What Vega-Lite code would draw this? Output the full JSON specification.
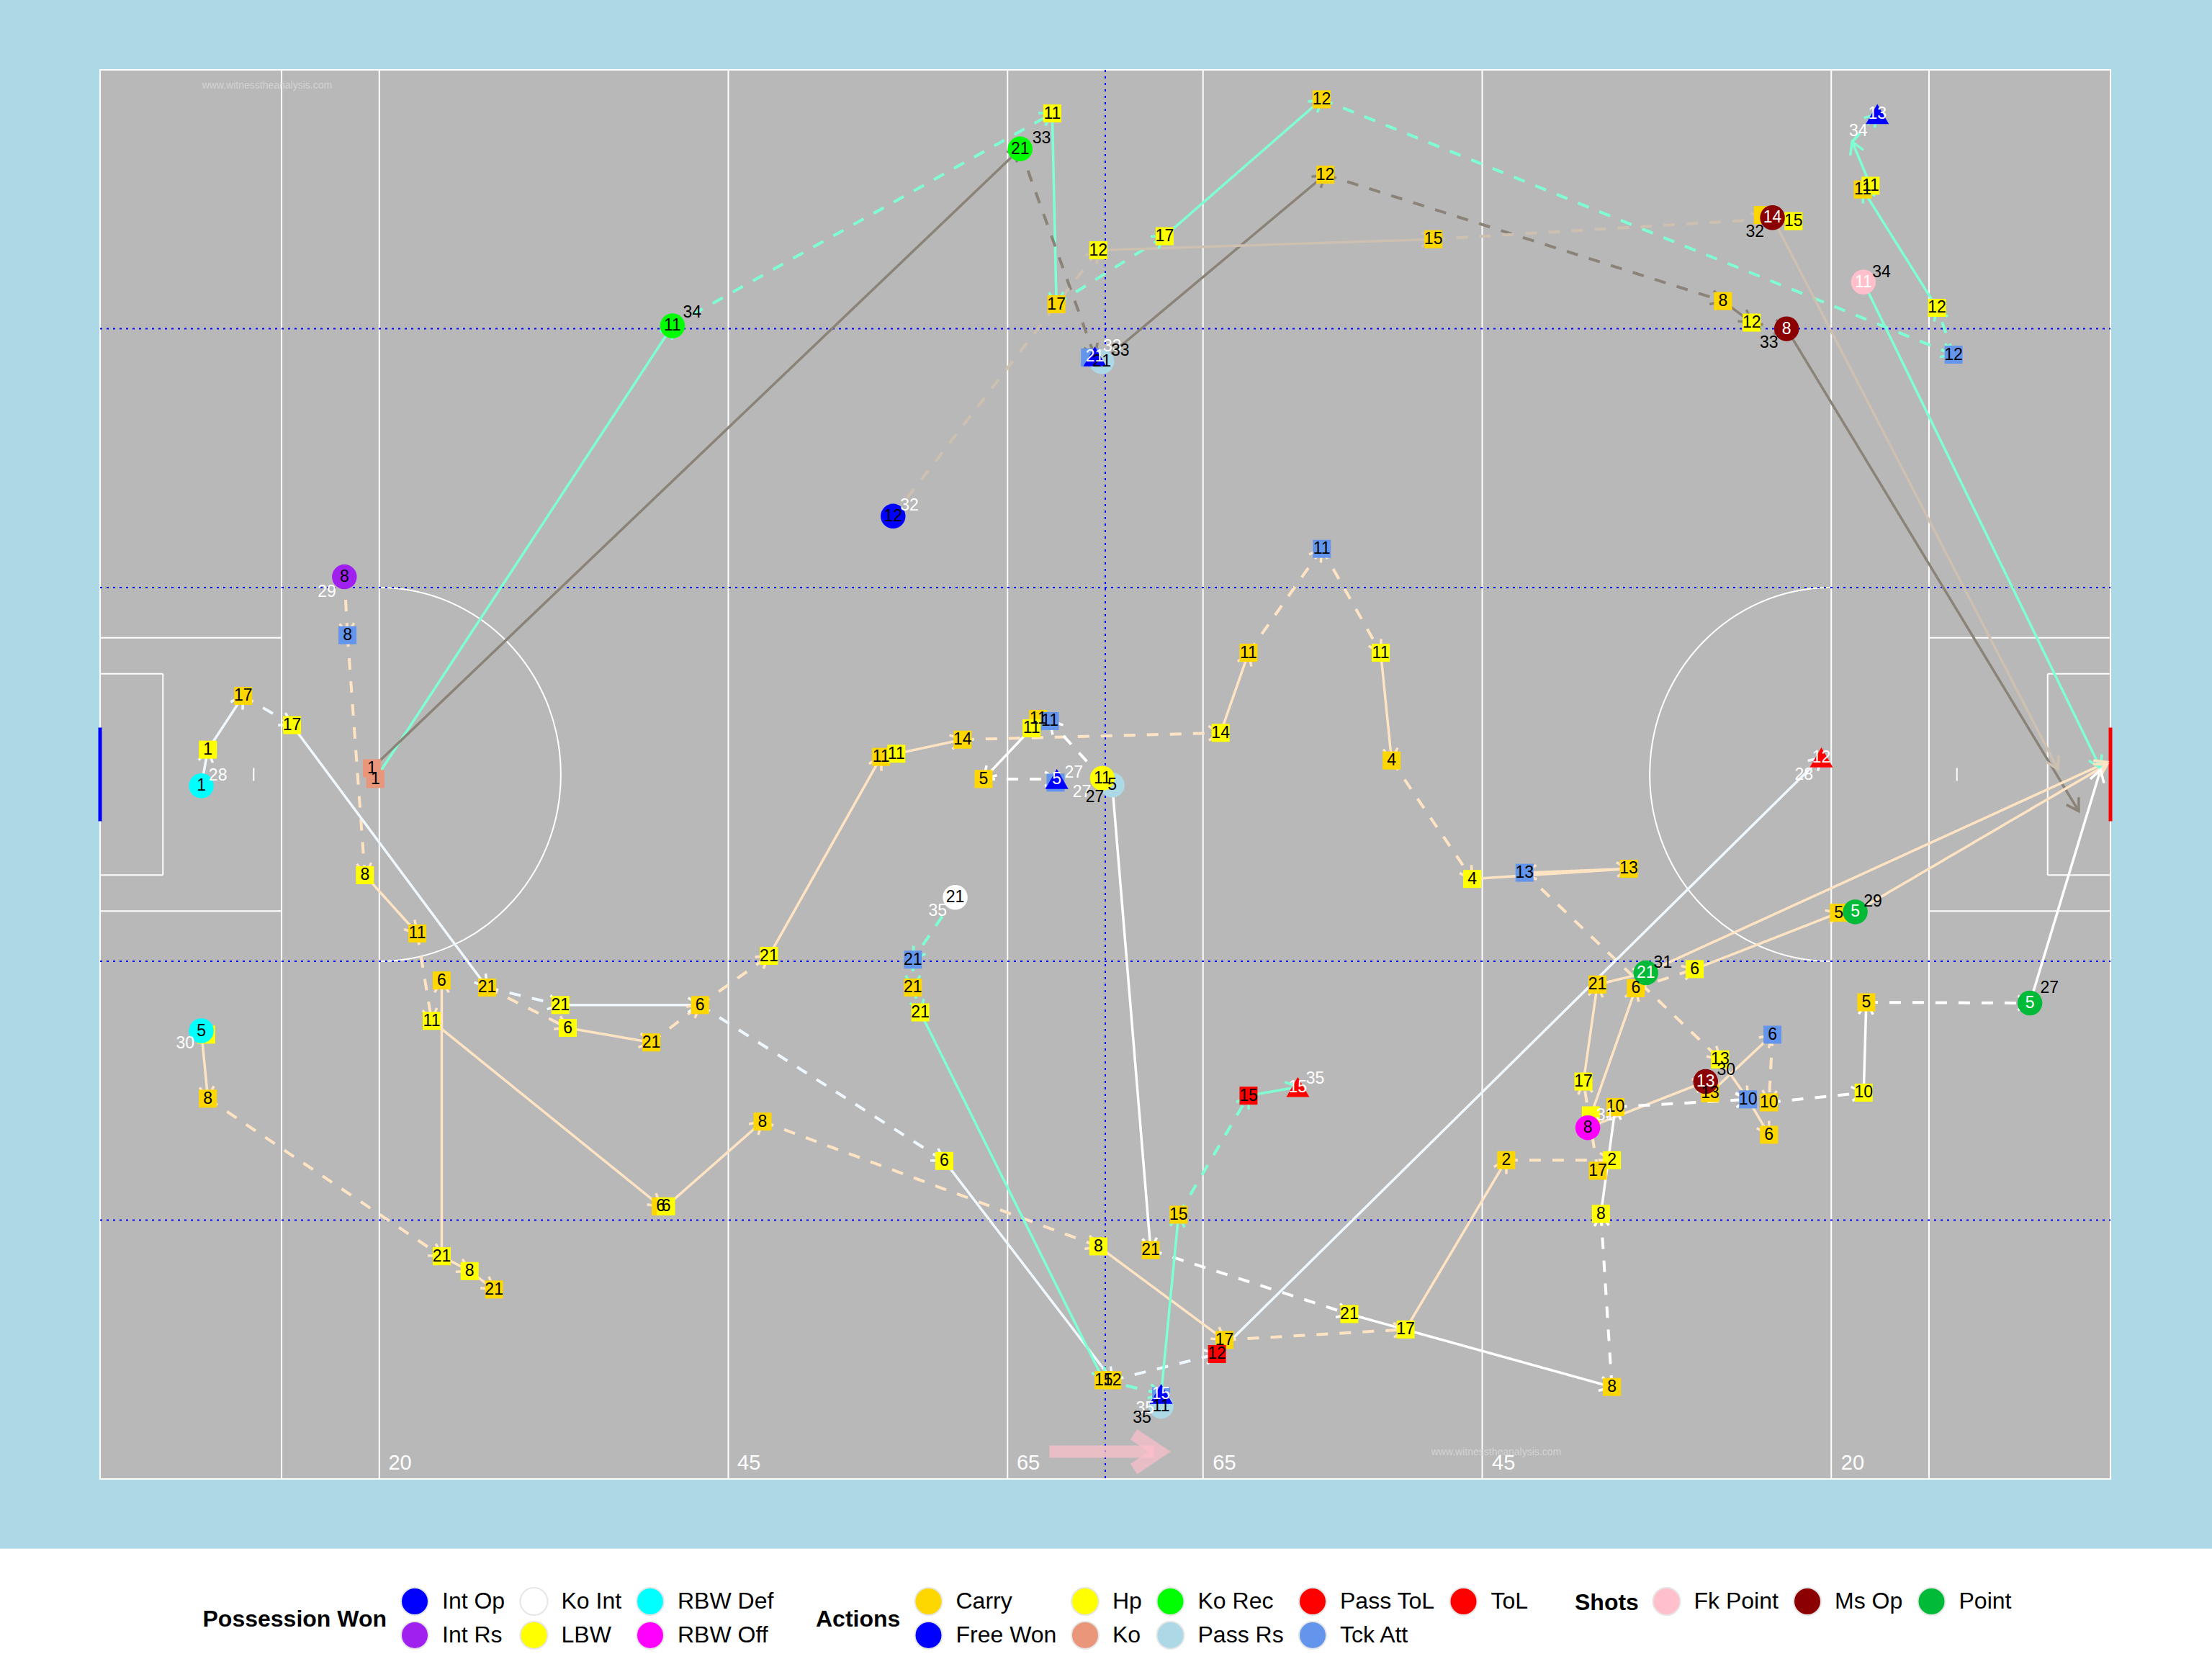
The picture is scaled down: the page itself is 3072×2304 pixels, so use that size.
{
  "$schema": "https://vega.github.io/schema/vega-lite/v6.json",
  "width": 2792,
  "height": 1957,
  "autosize": {"type": "none"},
  "padding": {"left": 139, "top": 97, "right": 141, "bottom": 250},
  "background": "#ADD8E6",
  "view": {"fill": "#B8B8B8", "stroke": "white", "strokeWidth": 2},
  "config": {
    "font": "Liberation Sans",
    "legend": {
      "padding": 0,
      "titleOrient": "left",
      "titleAnchor": "middle",
      "titleFontSize": 32,
      "titleFontWeight": "bold",
      "titleColor": "black",
      "titleLimit": 600,
      "titlePadding": 18.5,
      "labelFontSize": 32,
      "labelColor": "black",
      "labelOffset": 18,
      "labelLimit": 400,
      "symbolSize": 1444,
      "symbolStrokeWidth": 0,
      "symbolOpacity": 1,
      "columnPadding": 16.5,
      "rowPadding": 1
    }
  },
  "datasets": {
    "lines": [
      {"x": 13, "y": 0, "xe": 13, "ye": 98},
      {"x": 20, "y": 0, "xe": 20, "ye": 98},
      {"x": 45, "y": 0, "xe": 45, "ye": 98},
      {"x": 65, "y": 0, "xe": 65, "ye": 98},
      {"x": 79, "y": 0, "xe": 79, "ye": 98},
      {"x": 99, "y": 0, "xe": 99, "ye": 98},
      {"x": 124, "y": 0, "xe": 124, "ye": 98},
      {"x": 131, "y": 0, "xe": 131, "ye": 98},
      {"x": 0, "y": 39.5, "xe": 13, "ye": 39.5},
      {"x": 0, "y": 58.5, "xe": 13, "ye": 58.5},
      {"x": 131, "y": 39.5, "xe": 144, "ye": 39.5},
      {"x": 131, "y": 58.5, "xe": 144, "ye": 58.5},
      {"x": 0, "y": 42, "xe": 4.5, "ye": 42},
      {"x": 0, "y": 56, "xe": 4.5, "ye": 56},
      {"x": 4.5, "y": 42, "xe": 4.5, "ye": 56},
      {"x": 139.5, "y": 42, "xe": 144, "ye": 42},
      {"x": 139.5, "y": 56, "xe": 144, "ye": 56},
      {"x": 139.5, "y": 42, "xe": 139.5, "ye": 56},
      {"x": 11, "y": 48.55, "xe": 11, "ye": 49.45},
      {"x": 133, "y": 48.55, "xe": 133, "ye": 49.45}
    ],
    "dotlines": [
      {"x": 0, "y": 18, "xe": 144, "ye": 18},
      {"x": 0, "y": 36, "xe": 144, "ye": 36},
      {"x": 0, "y": 62, "xe": 144, "ye": 62},
      {"x": 0, "y": 80, "xe": 144, "ye": 80},
      {"x": 72, "y": 0, "xe": 72, "ye": 98}
    ],
    "moves": [
      {"p": "1", "m": "Pass", "x": 19.72, "y": 49.32, "xe": 41.0, "ye": 17.8},
      {"p": "1", "m": "Run", "x": 41.0, "y": 17.8, "xe": 68.2, "ye": 3.03},
      {"p": "1", "m": "Pass", "x": 68.2, "y": 3.03, "xe": 68.5, "ye": 16.3},
      {"p": "1", "m": "Run", "x": 68.5, "y": 16.3, "xe": 76.25, "ye": 11.57},
      {"p": "1", "m": "Pass", "x": 76.25, "y": 11.57, "xe": 87.5, "ye": 2.05},
      {"p": "1", "m": "Run", "x": 87.5, "y": 2.05, "xe": 132.76, "ye": 19.81},
      {"p": "1", "m": "Run", "x": 132.76, "y": 19.81, "xe": 131.57, "ye": 16.55},
      {"p": "1", "m": "Pass", "x": 131.57, "y": 16.55, "xe": 126.26, "ye": 8.32},
      {"p": "1", "m": "Pass", "x": 126.82, "y": 8.06, "xe": 125.5, "ye": 5.0},
      {"p": "1", "m": "Run", "x": 125.5, "y": 5.0, "xe": 127.3, "ye": 3.07},
      {"p": "1", "m": "Pass", "x": 126.3, "y": 14.76, "xe": 143.29, "ye": 48.57},
      {"p": "2", "m": "Pass", "x": 19.47, "y": 48.57, "xe": 65.9, "ye": 5.5},
      {"p": "2", "m": "Run", "x": 65.9, "y": 5.5, "xe": 71.25, "ye": 19.93},
      {"p": "2", "m": "Pass", "x": 71.75, "y": 20.3, "xe": 87.76, "ye": 7.29},
      {"p": "2", "m": "Run", "x": 87.76, "y": 7.29, "xe": 116.25, "ye": 16.08},
      {"p": "2", "m": "Pass", "x": 116.25, "y": 16.08, "xe": 118.3, "ye": 17.58},
      {"p": "2", "m": "Run", "x": 118.3, "y": 17.58, "xe": 120.8, "ye": 18.01},
      {"p": "2", "m": "Pass", "x": 120.8, "y": 18.01, "xe": 141.73, "ye": 51.56},
      {"p": "3", "m": "Run", "x": 56.8, "y": 31.04, "xe": 71.5, "ye": 12.55},
      {"p": "3", "m": "Pass", "x": 71.5, "y": 12.55, "xe": 95.5, "ye": 11.78},
      {"p": "3", "m": "Run", "x": 95.5, "y": 11.78, "xe": 119.1, "ye": 10.4},
      {"p": "3", "m": "Pass", "x": 119.79, "y": 10.28, "xe": 140.23, "ye": 48.63},
      {"p": "4", "m": "Run", "x": 17.5, "y": 35.26, "xe": 17.72, "ye": 39.32},
      {"p": "4", "m": "Run", "x": 17.72, "y": 39.32, "xe": 18.97, "ye": 56.01},
      {"p": "4", "m": "Pass", "x": 18.97, "y": 56.01, "xe": 22.72, "ye": 60.06},
      {"p": "4", "m": "Run", "x": 22.72, "y": 60.06, "xe": 23.75, "ye": 66.14},
      {"p": "4", "m": "Pass", "x": 23.75, "y": 66.14, "xe": 40.16, "ye": 79.04},
      {"p": "4", "m": "Pass", "x": 40.54, "y": 79.04, "xe": 47.45, "ye": 73.14},
      {"p": "4", "m": "Run", "x": 47.45, "y": 73.14, "xe": 71.5, "ye": 81.82},
      {"p": "4", "m": "Pass", "x": 71.5, "y": 81.82, "xe": 80.54, "ye": 88.33},
      {"p": "4", "m": "Run", "x": 80.54, "y": 88.33, "xe": 93.51, "ye": 87.6},
      {"p": "4", "m": "Pass", "x": 93.51, "y": 87.6, "xe": 100.72, "ye": 75.83},
      {"p": "4", "m": "Run", "x": 100.72, "y": 75.83, "xe": 108.29, "ye": 75.83},
      {"p": "4", "m": "Run", "x": 107.28, "y": 76.56, "xe": 106.25, "ye": 70.36},
      {"p": "4", "m": "Pass", "x": 106.25, "y": 70.36, "xe": 107.25, "ye": 63.61},
      {"p": "4", "m": "Pass", "x": 107.25, "y": 63.61, "xe": 110.72, "ye": 62.8},
      {"p": "4", "m": "Pass", "x": 110.72, "y": 62.8, "xe": 143.76, "ye": 48.15},
      {"p": "4", "m": "Pass", "x": 24.47, "y": 82.51, "xe": 24.47, "ye": 63.33},
      {"p": "4", "m": "Pass", "x": 7.25, "y": 66.83, "xe": 7.72, "ye": 71.55},
      {"p": "4", "m": "Run", "x": 7.72, "y": 71.55, "xe": 24.47, "ye": 82.51},
      {"p": "4", "m": "Pass", "x": 24.47, "y": 82.51, "xe": 26.47, "ye": 83.54},
      {"p": "4", "m": "Pass", "x": 26.47, "y": 83.54, "xe": 28.22, "ye": 84.82},
      {"p": "4", "m": "Run", "x": 27.72, "y": 63.82, "xe": 33.5, "ye": 66.63},
      {"p": "4", "m": "Pass", "x": 33.5, "y": 66.63, "xe": 39.48, "ye": 67.64},
      {"p": "4", "m": "Run", "x": 39.48, "y": 67.64, "xe": 42.97, "ye": 65.04},
      {"p": "4", "m": "Run", "x": 42.97, "y": 65.04, "xe": 47.91, "ye": 61.62},
      {"p": "4", "m": "Pass", "x": 47.91, "y": 61.62, "xe": 55.94, "ye": 47.78},
      {"p": "4", "m": "Pass", "x": 57.03, "y": 47.56, "xe": 61.78, "ye": 46.58},
      {"p": "4", "m": "Run", "x": 61.78, "y": 46.58, "xe": 80.26, "ye": 46.11},
      {"p": "4", "m": "Pass", "x": 80.26, "y": 46.11, "xe": 82.26, "ye": 40.54},
      {"p": "4", "m": "Run", "x": 82.26, "y": 40.54, "xe": 87.51, "ye": 33.31},
      {"p": "4", "m": "Run", "x": 87.51, "y": 33.31, "xe": 91.73, "ye": 40.54},
      {"p": "4", "m": "Pass", "x": 91.73, "y": 40.54, "xe": 92.51, "ye": 48.03},
      {"p": "4", "m": "Run", "x": 92.51, "y": 48.03, "xe": 98.28, "ye": 56.27},
      {"p": "4", "m": "Pass", "x": 98.28, "y": 56.27, "xe": 109.5, "ye": 55.56},
      {"p": "4", "m": "Pass", "x": 109.5, "y": 55.56, "xe": 102.03, "ye": 55.84},
      {"p": "4", "m": "Run", "x": 102.03, "y": 55.84, "xe": 116.04, "ye": 68.82},
      {"p": "4", "m": "Pass", "x": 116.04, "y": 68.82, "xe": 118.04, "ye": 71.6},
      {"p": "4", "m": "Pass", "x": 115.32, "y": 71.17, "xe": 119.79, "ye": 67.1},
      {"p": "4", "m": "Run", "x": 119.79, "y": 67.1, "xe": 119.54, "ye": 71.81},
      {"p": "4", "m": "Pass", "x": 118.04, "y": 71.6, "xe": 119.54, "ye": 74.06},
      {"p": "4", "m": "Pass", "x": 106.56, "y": 73.57, "xe": 115.0, "ye": 70.36},
      {"p": "4", "m": "Pass", "x": 106.78, "y": 72.71, "xe": 110.0, "ye": 63.87},
      {"p": "4", "m": "Run", "x": 110.0, "y": 63.87, "xe": 114.22, "ye": 62.54},
      {"p": "4", "m": "Pass", "x": 114.22, "y": 62.54, "xe": 124.54, "ye": 58.62},
      {"p": "4", "m": "Pass", "x": 125.72, "y": 58.56, "xe": 143.76, "ye": 48.3},
      {"p": "5", "m": "Pass", "x": 7.25, "y": 49.79, "xe": 7.72, "ye": 47.28},
      {"p": "5", "m": "Pass", "x": 7.72, "y": 47.28, "xe": 10.25, "ye": 43.54},
      {"p": "5", "m": "Run", "x": 10.25, "y": 43.54, "xe": 13.75, "ye": 45.57},
      {"p": "5", "m": "Pass", "x": 13.75, "y": 45.57, "xe": 27.72, "ye": 63.82},
      {"p": "5", "m": "Run", "x": 27.72, "y": 63.82, "xe": 32.97, "ye": 65.04},
      {"p": "5", "m": "Pass", "x": 32.97, "y": 65.04, "xe": 42.97, "ye": 65.04},
      {"p": "5", "m": "Run", "x": 42.97, "y": 65.04, "xe": 60.47, "ye": 75.88},
      {"p": "5", "m": "Pass", "x": 60.47, "y": 75.88, "xe": 72.5, "ye": 91.13},
      {"p": "5", "m": "Run", "x": 72.5, "y": 91.13, "xe": 80.0, "ye": 89.31},
      {"p": "5", "m": "Pass", "x": 80.0, "y": 89.31, "xe": 123.29, "ye": 47.82},
      {"p": "6", "m": "Run", "x": 71.79, "y": 49.27, "xe": 68.03, "ye": 45.29},
      {"p": "6", "m": "Pass", "x": 66.72, "y": 45.79, "xe": 63.28, "ye": 49.32},
      {"p": "6", "m": "Run", "x": 63.28, "y": 49.32, "xe": 68.53, "ye": 49.32},
      {"p": "6", "m": "Pass", "x": 72.5, "y": 49.74, "xe": 75.25, "ye": 82.08},
      {"p": "6", "m": "Run", "x": 75.25, "y": 82.08, "xe": 89.48, "ye": 86.53},
      {"p": "6", "m": "Pass", "x": 89.48, "y": 86.53, "xe": 108.29, "ye": 91.6},
      {"p": "6", "m": "Run", "x": 108.29, "y": 91.6, "xe": 107.5, "ye": 79.56},
      {"p": "6", "m": "Pass", "x": 107.5, "y": 79.56, "xe": 108.54, "ye": 72.13},
      {"p": "6", "m": "Run", "x": 108.54, "y": 72.13, "xe": 118.04, "ye": 71.6},
      {"p": "6", "m": "Run", "x": 119.54, "y": 71.81, "xe": 126.32, "ye": 71.13},
      {"p": "6", "m": "Pass", "x": 126.32, "y": 71.13, "xe": 126.51, "ye": 64.85},
      {"p": "6", "m": "Run", "x": 126.51, "y": 64.85, "xe": 138.23, "ye": 64.9},
      {"p": "6", "m": "Pass", "x": 138.23, "y": 64.9, "xe": 143.29, "ye": 48.67},
      {"p": "7", "m": "Run", "x": 61.25, "y": 57.55, "xe": 58.22, "ye": 61.88},
      {"p": "7", "m": "Run", "x": 58.22, "y": 61.88, "xe": 58.22, "ye": 63.82},
      {"p": "7", "m": "Run", "x": 58.22, "y": 63.82, "xe": 58.75, "ye": 65.55},
      {"p": "7", "m": "Pass", "x": 58.75, "y": 65.55, "xe": 71.88, "ye": 91.13},
      {"p": "7", "m": "Run", "x": 71.88, "y": 91.13, "xe": 76.0, "ye": 92.09},
      {"p": "7", "m": "Pass", "x": 76.0, "y": 92.09, "xe": 77.25, "ye": 79.62},
      {"p": "7", "m": "Run", "x": 77.25, "y": 79.62, "xe": 82.26, "ye": 71.34},
      {"p": "7", "m": "Pass", "x": 82.26, "y": 71.34, "xe": 85.79, "ye": 70.74}
    ],
    "events": [
      {"grp": "act", "ev": "Hp", "n": "11", "x": 68.2, "y": 3.03},
      {"grp": "act", "ev": "Carry", "n": "17", "x": 68.5, "y": 16.3},
      {"grp": "act", "ev": "Hp", "n": "12", "x": 71.5, "y": 12.55},
      {"grp": "act", "ev": "Hp", "n": "17", "x": 76.25, "y": 11.57},
      {"grp": "act", "ev": "Carry", "n": "12", "x": 87.5, "y": 2.05},
      {"grp": "act", "ev": "Carry", "n": "12", "x": 87.76, "y": 7.29},
      {"grp": "act", "ev": "Carry", "n": "15", "x": 95.5, "y": 11.78},
      {"grp": "act", "ev": "Tck Att", "n": null, "x": 70.9, "y": 20.0},
      {"grp": "act", "ev": "Carry", "n": "8", "x": 116.25, "y": 16.08},
      {"grp": "act", "ev": "Hp", "n": "12", "x": 118.3, "y": 17.58},
      {"grp": "act", "ev": "Carry", "n": null, "x": 119.1, "y": 10.1},
      {"grp": "act", "ev": "Hp", "n": "15", "x": 121.3, "y": 10.52},
      {"grp": "act", "ev": "Carry", "n": "11", "x": 126.26, "y": 8.32},
      {"grp": "act", "ev": "Hp", "n": "11", "x": 126.82, "y": 8.06},
      {"grp": "act", "ev": "Hp", "n": "12", "x": 131.57, "y": 16.55},
      {"grp": "act", "ev": "Tck Att", "n": "12", "x": 132.76, "y": 19.81},
      {"grp": "act", "ev": "Tck Att", "n": "8", "x": 17.72, "y": 39.32},
      {"grp": "act", "ev": "Hp", "n": "8", "x": 18.97, "y": 56.01},
      {"grp": "act", "ev": "Carry", "n": "11", "x": 22.72, "y": 60.06},
      {"grp": "act", "ev": "Carry", "n": "6", "x": 24.47, "y": 63.33},
      {"grp": "act", "ev": "Ko", "n": "1", "x": 19.47, "y": 48.57},
      {"grp": "act", "ev": "Ko", "n": "1", "x": 19.72, "y": 49.32},
      {"grp": "act", "ev": "Carry", "n": "17", "x": 10.25, "y": 43.54},
      {"grp": "act", "ev": "Hp", "n": "17", "x": 13.75, "y": 45.57},
      {"grp": "act", "ev": "Hp", "n": "1", "x": 7.72, "y": 47.28},
      {"grp": "act", "ev": "Carry", "n": "21", "x": 27.72, "y": 63.82},
      {"grp": "act", "ev": "Hp", "n": "21", "x": 32.97, "y": 65.04},
      {"grp": "act", "ev": "Carry", "n": "6", "x": 42.97, "y": 65.04},
      {"grp": "act", "ev": "Hp", "n": "21", "x": 47.91, "y": 61.62},
      {"grp": "act", "ev": "Hp", "n": "11", "x": 23.75, "y": 66.14},
      {"grp": "act", "ev": "Hp", "n": "6", "x": 33.5, "y": 66.63},
      {"grp": "act", "ev": "Carry", "n": "21", "x": 39.48, "y": 67.64},
      {"grp": "act", "ev": "Carry", "n": "6", "x": 40.16, "y": 79.04},
      {"grp": "act", "ev": "Hp", "n": "6", "x": 40.54, "y": 79.04},
      {"grp": "act", "ev": "Carry", "n": "8", "x": 47.45, "y": 73.14},
      {"grp": "act", "ev": "Hp", "n": null, "x": 7.6, "y": 67.1},
      {"grp": "act", "ev": "Carry", "n": "8", "x": 7.72, "y": 71.55},
      {"grp": "act", "ev": "Hp", "n": "21", "x": 24.47, "y": 82.51},
      {"grp": "act", "ev": "Hp", "n": "8", "x": 26.47, "y": 83.54},
      {"grp": "act", "ev": "Carry", "n": "21", "x": 28.22, "y": 84.82},
      {"grp": "act", "ev": "Carry", "n": "11", "x": 55.94, "y": 47.78},
      {"grp": "act", "ev": "Hp", "n": "11", "x": 57.03, "y": 47.56},
      {"grp": "act", "ev": "Carry", "n": "14", "x": 61.78, "y": 46.58},
      {"grp": "act", "ev": "Carry", "n": "11", "x": 67.19, "y": 45.14},
      {"grp": "act", "ev": "Hp", "n": "11", "x": 66.72, "y": 45.79},
      {"grp": "act", "ev": "Tck Att", "n": "11", "x": 68.03, "y": 45.29},
      {"grp": "act", "ev": "Carry", "n": "5", "x": 63.28, "y": 49.32},
      {"grp": "act", "ev": "Tck Att", "n": null, "x": 68.44, "y": 49.57},
      {"grp": "act", "ev": "Hp", "n": "14", "x": 80.26, "y": 46.11},
      {"grp": "act", "ev": "Carry", "n": "11", "x": 82.26, "y": 40.54},
      {"grp": "act", "ev": "Tck Att", "n": "11", "x": 87.51, "y": 33.31},
      {"grp": "act", "ev": "Hp", "n": "11", "x": 91.73, "y": 40.54},
      {"grp": "act", "ev": "Carry", "n": "4", "x": 92.51, "y": 48.03},
      {"grp": "act", "ev": "Tck Att", "n": "21", "x": 58.22, "y": 61.88},
      {"grp": "act", "ev": "Carry", "n": "21", "x": 58.22, "y": 63.82},
      {"grp": "act", "ev": "Hp", "n": "21", "x": 58.75, "y": 65.55},
      {"grp": "act", "ev": "Hp", "n": "4", "x": 98.28, "y": 56.27},
      {"grp": "act", "ev": "Tck Att", "n": "13", "x": 102.03, "y": 55.84},
      {"grp": "act", "ev": "Carry", "n": "13", "x": 109.5, "y": 55.56},
      {"grp": "act", "ev": "Carry", "n": "21", "x": 107.25, "y": 63.61},
      {"grp": "act", "ev": "Carry", "n": "6", "x": 110.0, "y": 63.87},
      {"grp": "act", "ev": "Hp", "n": "6", "x": 114.22, "y": 62.54},
      {"grp": "act", "ev": "Carry", "n": "5", "x": 124.54, "y": 58.62},
      {"grp": "act", "ev": "Carry", "n": "5", "x": 126.51, "y": 64.85},
      {"grp": "act", "ev": "Carry", "n": "13", "x": 115.32, "y": 71.17},
      {"grp": "act", "ev": "Hp", "n": "13", "x": 116.04, "y": 68.82},
      {"grp": "act", "ev": "Hp", "n": "17", "x": 106.25, "y": 70.36},
      {"grp": "act", "ev": "Carry", "n": "10", "x": 108.54, "y": 72.13},
      {"grp": "act", "ev": "Hp", "n": null, "x": 106.78, "y": 72.71},
      {"grp": "act", "ev": "Tck Att", "n": "10", "x": 118.04, "y": 71.6},
      {"grp": "act", "ev": "Carry", "n": "10", "x": 119.54, "y": 71.81},
      {"grp": "act", "ev": "Tck Att", "n": "6", "x": 119.79, "y": 67.1},
      {"grp": "act", "ev": "Carry", "n": "6", "x": 119.54, "y": 74.06},
      {"grp": "act", "ev": "Hp", "n": "10", "x": 126.32, "y": 71.13},
      {"grp": "act", "ev": "Carry", "n": "2", "x": 100.72, "y": 75.83},
      {"grp": "act", "ev": "Hp", "n": "2", "x": 108.29, "y": 75.83},
      {"grp": "act", "ev": "Carry", "n": "17", "x": 107.28, "y": 76.56},
      {"grp": "act", "ev": "Hp", "n": "8", "x": 107.5, "y": 79.56},
      {"grp": "act", "ev": "Carry", "n": "8", "x": 108.29, "y": 91.6},
      {"grp": "act", "ev": "Hp", "n": "6", "x": 60.47, "y": 75.88},
      {"grp": "act", "ev": "Hp", "n": "8", "x": 71.5, "y": 81.82},
      {"grp": "act", "ev": "Carry", "n": "21", "x": 75.25, "y": 82.08},
      {"grp": "act", "ev": "Carry", "n": "15", "x": 77.25, "y": 79.62},
      {"grp": "act", "ev": "Pass ToL", "n": "15", "x": 82.26, "y": 71.34},
      {"grp": "act", "ev": "Carry", "n": "17", "x": 80.54, "y": 88.33},
      {"grp": "act", "ev": "Pass ToL", "n": "12", "x": 80.0, "y": 89.31},
      {"grp": "act", "ev": "Hp", "n": "21", "x": 89.48, "y": 86.53},
      {"grp": "act", "ev": "Hp", "n": "17", "x": 93.51, "y": 87.6},
      {"grp": "act", "ev": "Carry", "n": "15", "x": 71.88, "y": 91.13},
      {"grp": "act", "ev": "Carry", "n": "12", "x": 72.5, "y": 91.13},
      {"grp": "act", "ev": "Tck Att", "n": null, "x": 76.0, "y": 92.24},
      {"grp": "act", "ev": "Ko Rec", "n": "11", "x": 41.0, "y": 17.8},
      {"grp": "act", "ev": "Ko Rec", "n": "21", "x": 65.9, "y": 5.5},
      {"grp": "act", "ev": "Pass Rs", "n": "21", "x": 71.75, "y": 20.3},
      {"grp": "act", "ev": "Pass Rs", "n": "5", "x": 72.5, "y": 49.74},
      {"grp": "act", "ev": "Pass Rs", "n": "11", "x": 76.0, "y": 92.95},
      {"grp": "act", "ev": "Free Won", "n": "21", "x": 71.25, "y": 19.93},
      {"grp": "act", "ev": "Free Won", "n": "13", "x": 127.3, "y": 3.07},
      {"grp": "act", "ev": "Free Won", "n": "5", "x": 68.53, "y": 49.32},
      {"grp": "act", "ev": "ToL", "n": "12", "x": 123.29, "y": 47.82},
      {"grp": "act", "ev": "ToL", "n": "15", "x": 85.79, "y": 70.74},
      {"grp": "act", "ev": "Free Won", "n": "15", "x": 76.0, "y": 92.09},
      {"grp": "pos", "ev": "Int Op", "n": "12", "x": 56.8, "y": 31.04},
      {"grp": "pos", "ev": "Int Rs", "n": "8", "x": 17.5, "y": 35.26},
      {"grp": "pos", "ev": "RBW Def", "n": "1", "x": 7.25, "y": 49.79},
      {"grp": "pos", "ev": "RBW Def", "n": "5", "x": 7.25, "y": 66.83},
      {"grp": "pos", "ev": "Ko Int", "n": "21", "x": 61.25, "y": 57.55},
      {"grp": "pos", "ev": "LBW", "n": "11", "x": 71.79, "y": 49.27},
      {"grp": "pos", "ev": "RBW Off", "n": "8", "x": 106.56, "y": 73.57},
      {"grp": "shot", "ev": "Ms Op", "n": "14", "x": 119.79, "y": 10.28},
      {"grp": "shot", "ev": "Ms Op", "n": "8", "x": 120.8, "y": 18.01},
      {"grp": "shot", "ev": "Fk Point", "n": "11", "x": 126.3, "y": 14.76},
      {"grp": "shot", "ev": "Point", "n": "21", "x": 110.72, "y": 62.8},
      {"grp": "shot", "ev": "Point", "n": "5", "x": 125.72, "y": 58.56},
      {"grp": "shot", "ev": "Point", "n": "5", "x": 138.23, "y": 64.9},
      {"grp": "shot", "ev": "Ms Op", "n": "13", "x": 115.0, "y": 70.36}
    ],
    "tags": [
      {"ev": "Ko Rec", "min": "34", "x": 42.41, "y": 16.9},
      {"ev": "Ko Rec", "min": "33", "x": 67.44, "y": 4.74},
      {"ev": "Int Op", "min": "32", "x": 57.97, "y": 30.29},
      {"ev": "Free Won", "min": "33", "x": 72.5, "y": 19.23},
      {"ev": "Pass Rs", "min": "33", "x": 73.07, "y": 19.55},
      {"ev": "Ms Op", "min": "32", "x": 118.54, "y": 11.27},
      {"ev": "Ms Op", "min": "33", "x": 119.54, "y": 18.97},
      {"ev": "Fk Point", "min": "34", "x": 127.6, "y": 14.05},
      {"ev": "Free Won", "min": "34", "x": 125.94, "y": 4.25},
      {"ev": "Int Rs", "min": "29", "x": 16.25, "y": 36.33},
      {"ev": "RBW Def", "min": "28", "x": 8.44, "y": 49.06},
      {"ev": "RBW Def", "min": "30", "x": 6.1, "y": 67.68},
      {"ev": "Free Won", "min": "27", "x": 69.75, "y": 48.89},
      {"ev": "LBW", "min": "27", "x": 70.32, "y": 50.24},
      {"ev": "Pass Rs", "min": "27", "x": 71.25, "y": 50.6},
      {"ev": "Ko Int", "min": "35", "x": 60.0, "y": 58.47},
      {"ev": "ToL", "min": "28", "x": 122.04, "y": 49.0},
      {"ev": "Point", "min": "31", "x": 111.94, "y": 62.11},
      {"ev": "Point", "min": "29", "x": 126.98, "y": 57.83},
      {"ev": "Point", "min": "27", "x": 139.63, "y": 63.87},
      {"ev": "Ms Op", "min": "30", "x": 116.47, "y": 69.56},
      {"ev": "RBW Off", "min": "31", "x": 107.82, "y": 72.71},
      {"ev": "ToL", "min": "35", "x": 87.04, "y": 70.14},
      {"ev": "Free Won", "min": "35", "x": 74.85, "y": 93.1},
      {"ev": "Pass Rs", "min": "35", "x": 74.63, "y": 93.74}
    ]
  },
  "encoding": {
    "x": {"field": "x", "type": "quantitative", "scale": {"domain": [0, 144], "nice": false, "zero": false}, "axis": null},
    "y": {"field": "y", "type": "quantitative", "scale": {"domain": [0, 98], "nice": false, "zero": false, "reverse": true}, "axis": null}
  },
  "layer": [
    {
      "data": {"values": [{"x": -10, "y": 102.85, "xe": 160, "ye": 130}]},
      "mark": {"type": "rect", "fill": "white"},
      "encoding": {"x2": {"field": "xe"}, "y2": {"field": "ye"}}
    },
    {
      "data": {"name": "lines"},
      "mark": {"type": "rule", "color": "white", "strokeWidth": 2},
      "encoding": {"x2": {"field": "xe"}, "y2": {"field": "ye"}}
    },
    {
      "data": {"values": [{"x": 20, "y": 49}, {"x": 124, "y": 49}]},
      "mark": {"type": "point", "filled": false, "color": "white", "strokeWidth": 2, "size": 269569, "opacity": 1},
      "encoding": {
        "shape": {"condition": {"test": "datum.x < 72", "value": "M 0 -1 A 0.971 1 0 0 1 0 1"}, "value": "M 0 -1 A 0.971 1 0 0 0 0 1"}
      }
    },
    {
      "data": {"name": "dotlines"},
      "mark": {"type": "rule", "color": "#0000FF", "strokeWidth": 2, "strokeDash": [3, 6]},
      "encoding": {"x2": {"field": "xe"}, "y2": {"field": "ye"}}
    },
    {
      "data": {"values": [{"x": 0, "y": 45.75, "ye": 52.25, "team": "Home"}, {"x": 144, "y": 45.75, "ye": 52.25, "team": "Away"}]},
      "mark": {"type": "rule", "strokeWidth": 5},
      "encoding": {
        "y2": {"field": "ye"},
        "color": {"field": "team", "type": "nominal", "scale": {"domain": ["Home", "Away"], "range": ["#0000FF", "#FF0000"]}, "legend": null}
      }
    },
    {
      "data": {"values": [{"x": 11.96, "y": 1.1, "txt": "www.witnesstheanalysis.com"}, {"x": 100.0, "y": 96.15, "txt": "www.witnesstheanalysis.com"}]},
      "mark": {"type": "text", "color": "#D3D3D3", "fontSize": 14},
      "encoding": {"text": {"field": "txt"}}
    },
    {
      "data": {"values": [
        {"x": 20.65, "y": 96.9, "lab": "20"},
        {"x": 45.65, "y": 96.9, "lab": "45"},
        {"x": 65.65, "y": 96.9, "lab": "65"},
        {"x": 79.7, "y": 96.9, "lab": "65"},
        {"x": 99.7, "y": 96.9, "lab": "45"},
        {"x": 124.7, "y": 96.9, "lab": "20"}
      ]},
      "mark": {"type": "text", "color": "white", "fontSize": 29, "align": "left", "baseline": "middle"},
      "encoding": {"text": {"field": "lab"}}
    },
    {
      "data": {"values": [{"x": 68.0, "y": 96.1, "xe": 75.5}]},
      "mark": {"type": "rule", "color": "#FFC0CB", "opacity": 0.7, "strokeWidth": 17},
      "encoding": {"x2": {"field": "xe"}}
    },
    {
      "data": {"values": [{"x": 75.9, "y": 96.1}]},
      "mark": {"type": "point", "shape": "M -1.5 -1 L 0 0 L -1.5 1", "size": 2304, "filled": false, "color": "#FFC0CB", "opacity": 0.7, "strokeWidth": 17}
    },
    {
      "data": {"name": "moves"},
      "mark": {"type": "rule"},
      "encoding": {
        "x2": {"field": "xe"},
        "y2": {"field": "ye"},
        "color": {"field": "p", "type": "nominal", "scale": {"domain": ["1", "2", "3", "4", "5", "6", "7"], "range": ["#7FFFD4", "#8B8378", "#CDC0B0", "#FFE4C4", "#F0F8FF", "#FFFFFF", "#7FFFD4"]}, "legend": null},
        "strokeDash": {"field": "m", "type": "nominal", "scale": {"domain": ["Pass", "Run"], "range": [[1, 0], [16, 16]]}, "legend": null},
        "strokeWidth": {"condition": {"test": "datum.m === 'Run'", "value": 4}, "value": 3.5}
      }
    },
    {
      "data": {"name": "moves"},
      "mark": {
        "type": "point",
        "shape": "M -1 -0.6 L 0 0 L -1 0.6",
        "size": 1100,
        "filled": false,
        "strokeWidth": 3.5,
        "opacity": 1,
        "angle": {"expr": "atan2((datum.ye - datum.y) * 19.969, (datum.xe - datum.x) * 19.389) * 180 / PI"}
      },
      "encoding": {
        "x": {"field": "xe", "type": "quantitative", "scale": {"domain": [0, 144], "nice": false, "zero": false}, "axis": null},
        "y": {"field": "ye", "type": "quantitative", "scale": {"domain": [0, 98], "nice": false, "zero": false, "reverse": true}, "axis": null},
        "color": {"field": "p", "type": "nominal", "scale": {"domain": ["1", "2", "3", "4", "5", "6", "7"], "range": ["#7FFFD4", "#8B8378", "#CDC0B0", "#FFE4C4", "#F0F8FF", "#FFFFFF", "#7FFFD4"]}, "legend": null}
      }
    },
    {
      "data": {"name": "events"},
      "transform": [{"filter": "datum.grp === 'act'"}],
      "mark": {"type": "point", "filled": true, "opacity": 1, "strokeWidth": 0},
      "encoding": {
        "color": {
          "field": "ev", "type": "nominal",
          "scale": {"domain": ["Carry", "Hp", "Ko Rec", "Pass ToL", "ToL", "Free Won", "Ko", "Pass Rs", "Tck Att"], "range": ["#FFD700", "#FFFF00", "#00FF00", "#FF0000", "#FF0000", "#0000FF", "#E9967A", "#ADD8E6", "#6495ED"]},
          "legend": {"title": "Actions", "orient": "none", "legendX": 994, "legendY": 2107, "columns": 5, "direction": "horizontal", "symbolType": "circle",
            "encode": {"symbols": {"update": {"stroke": {"value": "#E6E6E6"}, "strokeWidth": {"value": 2}}}}}
        },
        "shape": {"condition": [{"test": "datum.ev === 'Free Won' || datum.ev === 'ToL'", "value": "triangle-up"}, {"test": "datum.ev === 'Ko Rec' || datum.ev === 'Pass Rs'", "value": "circle"}], "value": "square"},
        "size": {"condition": [{"test": "datum.ev === 'Free Won' || datum.ev === 'ToL'", "value": 1024}, {"test": "datum.ev === 'Ko Rec' || datum.ev === 'Pass Rs'", "value": 1190}], "value": 625}
      }
    },
    {
      "data": {"name": "events"},
      "transform": [{"filter": "datum.grp === 'pos'"}],
      "mark": {"type": "point", "filled": true, "opacity": 1, "strokeWidth": 0, "shape": "circle", "size": 1190},
      "encoding": {
        "color": {
          "field": "ev", "type": "nominal",
          "scale": {"domain": ["Int Op", "Ko Int", "RBW Def", "Int Rs", "LBW", "RBW Off"], "range": ["#0000FF", "#FFFFFF", "#00FFFF", "#A020F0", "#FFFF00", "#FF00FF"]},
          "legend": {"title": "Possession Won", "orient": "none", "legendX": 142.5, "legendY": 2107, "columns": 3, "direction": "horizontal", "symbolType": "circle",
            "encode": {"symbols": {"update": {"stroke": {"value": "#E6E6E6"}, "strokeWidth": {"value": 2}}}}}
        }
      }
    },
    {
      "data": {"name": "events"},
      "transform": [{"filter": "datum.grp === 'shot'"}],
      "mark": {"type": "point", "filled": true, "opacity": 1, "strokeWidth": 0, "shape": "circle", "size": 1190},
      "encoding": {
        "color": {
          "field": "ev", "type": "nominal",
          "scale": {"domain": ["Fk Point", "Ms Op", "Point"], "range": ["#FFC0CB", "#8B0000", "#00BA38"]},
          "legend": {"title": "Shots", "orient": "none", "legendX": 2048, "legendY": 2107, "columns": 3, "direction": "horizontal", "symbolType": "circle",
            "encode": {"symbols": {"update": {"stroke": {"value": "#E6E6E6"}, "strokeWidth": {"value": 2}}}}}
        }
      }
    },
    {
      "data": {"name": "events"},
      "transform": [{"filter": "isValid(datum.n)"}],
      "mark": {"type": "text", "font": "Liberation Sans Narrow, Liberation Sans", "fontSize": 23, "align": "center", "baseline": "middle"},
      "encoding": {
        "text": {"field": "n"},
        "color": {"condition": {"test": "indexof(['Free Won', 'ToL', 'Ms Op', 'Fk Point', 'Point'], datum.ev) >= 0", "value": "white"}, "value": "black"}
      }
    },
    {
      "data": {"name": "tags"},
      "mark": {"type": "text", "font": "Liberation Sans Narrow, Liberation Sans", "fontSize": 23, "align": "center", "baseline": "middle"},
      "encoding": {
        "text": {"field": "min"},
        "color": {"condition": {"test": "indexof(['Ko Rec', 'Pass Rs', 'Ms Op', 'Fk Point', 'Point'], datum.ev) >= 0", "value": "black"}, "value": "white"}
      }
    }
  ],
  "resolve": {"scale": {"color": "independent"}}
}
